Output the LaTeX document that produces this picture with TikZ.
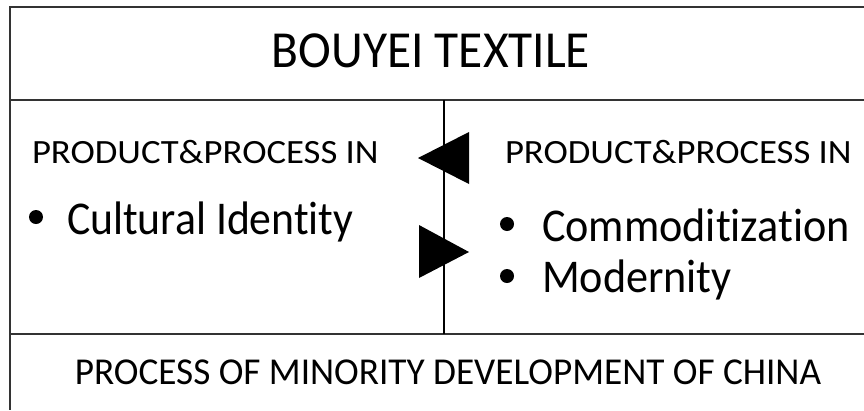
\documentclass[tikz,border=0pt]{standalone}
\usepackage{fontspec}
\setmainfont[Ligatures=NoCommon]{Carlito}
\tikzset{
  frame/.style={line width=1.6pt, draw=black!80},
  tri/.style={fill=black, draw=none},
  txt/.style={inner sep=0pt, outer sep=0pt},
  dot/.style={circle, fill=black, inner sep=0pt, minimum size=14pt},
}
\begin{document}
\begin{tikzpicture}[x=1pt,y=-1pt]
\useasboundingbox (0,0) rectangle (864,410);
% frame lines
\coordinate (tl) at (10,7);
\coordinate (tr) at (864,7);
\coordinate (ml) at (10,100);
\coordinate (mr) at (864,100);
\coordinate (bl) at (10,334);
\coordinate (br) at (864,334);
\coordinate (lb) at (10,410);
\coordinate (vt) at (444,100);
\coordinate (vb) at (444,334);
\draw[frame] (tr) -- (tl) -- (lb);
\draw[frame] (ml) -- (mr);
\draw[frame] (bl) -- (br);
\draw[line width=1.2pt] (vt) -- (vb);
% triangles
\fill[tri] (418,158) -- (469,132) -- (469,184) -- cycle;
\fill[tri] (419,225) -- (469,252) -- (419,278) -- cycle;
% texts
\node[txt, anchor=base] (title) at (431,67) {\fontsize{52}{52}\selectfont\addfontfeature{FakeStretch=0.95}BOUYEI TEXTILE};
\node[txt, anchor=base west] (lhead) at (32,163) {\fontsize{34}{34}\selectfont\addfontfeature{FakeStretch=1.08}PRODUCT\&PROCESS IN};
\node[txt, anchor=base west] (rhead) at (505,163) {\fontsize{34}{34}\selectfont\addfontfeature{FakeStretch=1.08}PRODUCT\&PROCESS IN};
\node[dot] (lb1) at (36,217) {};
\node[txt, anchor=base west] (litem) at (67,234) {\fontsize{47}{47}\selectfont\addfontfeature{FakeStretch=0.93}Cultural Identity};
\node[dot] (rb1) at (507,224) {};
\node[txt, anchor=base west] (ritem1) at (542,241) {\fontsize{47}{47}\selectfont\addfontfeature{FakeStretch=0.94}Commoditization};
\node[dot] (rb2) at (507,276) {};
\node[txt, anchor=base west] (ritem2) at (542,292) {\fontsize{47}{47}\selectfont\addfontfeature{FakeStretch=0.94}Modernity};
\node[txt, anchor=base] (foot) at (448,384) {\fontsize{38}{38}\selectfont\addfontfeature{FakeStretch=0.98}PROCESS OF MINORITY DEVELOPMENT OF CHINA};
\end{tikzpicture}
\end{document}
